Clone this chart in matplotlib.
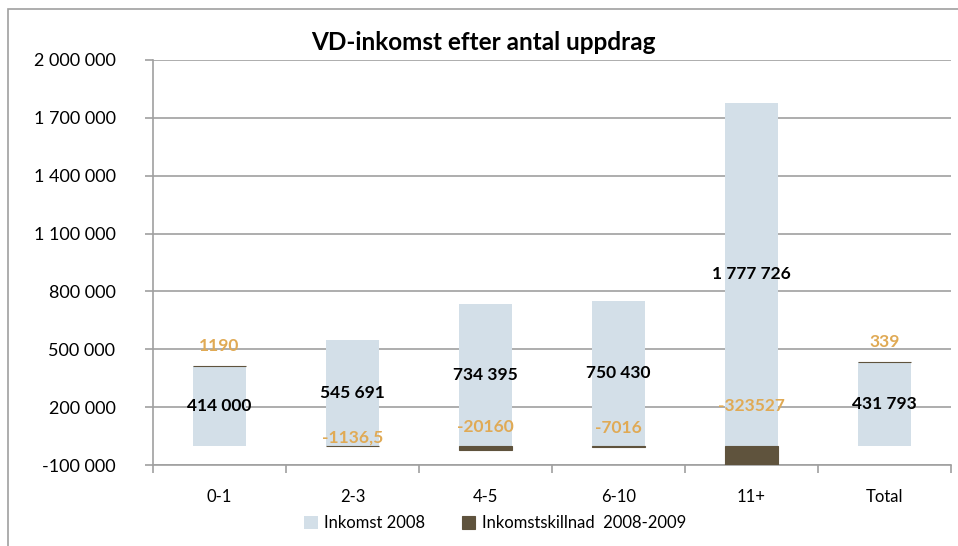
import matplotlib
matplotlib.use('Agg')
import matplotlib.pyplot as plt
import numpy as np
from matplotlib.patches import Rectangle

plt.rcParams['font.family'] = ['Lato', 'DejaVu Sans']

# data
categories = ['0-1', '2-3', '4-5', '6-10', '11+', 'Total']
inkomst_2008 = [414000, 545691, 734395, 750430, 1777726, 431793]
skillnad = [1190, -1136.5, -20160, -7016, -323527, 339]
skillnad_text = ['1190', '-1136,5', '-20160', '-7016', '-323527', '339']
# where the difference labels sit (moved by hand in the original)
skillnad_label_y = [518000, 40000, 98000, 90000, 204000, 536000]

light = '#d3dfe8'
dark = '#5f533d'
orange = '#e0aa55'
grid_c = '#a0a0a0'

fig = plt.figure(figsize=(9.58, 5.46), dpi=100)
ax = fig.add_axes([153/958, 81/546, 798/958, 405/546])

x = np.arange(len(categories))
w = 0.4
ax.bar(x, inkomst_2008, w, color=light, label='Inkomst 2008', zorder=2)
# positive differences stack on top, negative ones hang below zero
bottoms = [v if d > 0 else 0 for v, d in zip(inkomst_2008, skillnad)]
ax.bar(x, skillnad, w, bottom=bottoms, color=dark, edgecolor=dark, linewidth=0.8,
       label='Inkomstskillnad  2008-2009', zorder=3)

ax.set_ylim(-100000, 2000000)
ax.set_xlim(-0.5, len(categories) - 0.5)
yt = np.arange(-100000, 2000001, 300000)
ax.set_yticks(yt)
ax.set_yticklabels(['{:,}'.format(v).replace(',', ' ') for v in yt], fontsize=13)
ax.yaxis.grid(True, color=grid_c, linewidth=1.2, zorder=0)
ax.set_axisbelow(True)
ax.tick_params(axis='y', length=6, width=1.2, color=grid_c, pad=21)

ax.set_xticks(np.arange(len(categories) + 1) - 0.5)
ax.set_xticklabels([])
ax.set_xticks(x, minor=True)
ax.set_xticklabels(categories, minor=True, fontsize=12)
ax.tick_params(axis='x', which='major', length=6, width=1.2, color=grid_c)
ax.tick_params(axis='x', which='minor', length=0, pad=17)

for s in ['top', 'right']:
    ax.spines[s].set_visible(False)
for s in ['left', 'bottom']:
    ax.spines[s].set_color(grid_c)
    ax.spines[s].set_linewidth(1.2)

for xi, v in zip(x, inkomst_2008):
    ax.text(xi, v / 2, '{:,}'.format(v).replace(',', ' '), ha='center', va='center',
            fontsize=12.5, fontweight='bold', color='black', zorder=5)
for xi, t, ly in zip(x, skillnad_text, skillnad_label_y):
    ax.text(xi, ly, t, ha='center', va='center', fontsize=12.5, fontweight='bold',
            color=orange, zorder=5)

fig.text(0.505, 0.923, 'VD-inkomst efter antal uppdrag', ha='center', va='center',
         fontsize=17.5, fontweight='bold')

fig.legend(loc='center', bbox_to_anchor=(0.517, 0.042), ncol=2, frameon=False,
           fontsize=12, handlelength=0.8, handleheight=0.8, columnspacing=2.2,
           handletextpad=0.4)

# chart frame (left and top edges visible)
fig.patches.append(Rectangle((8/958, -0.1), 1.2, 1.1 - 9/546, transform=fig.transFigure,
                             fill=False, edgecolor='#a0a0a0', linewidth=1.2))

fig.savefig('out.png', dpi=100)
